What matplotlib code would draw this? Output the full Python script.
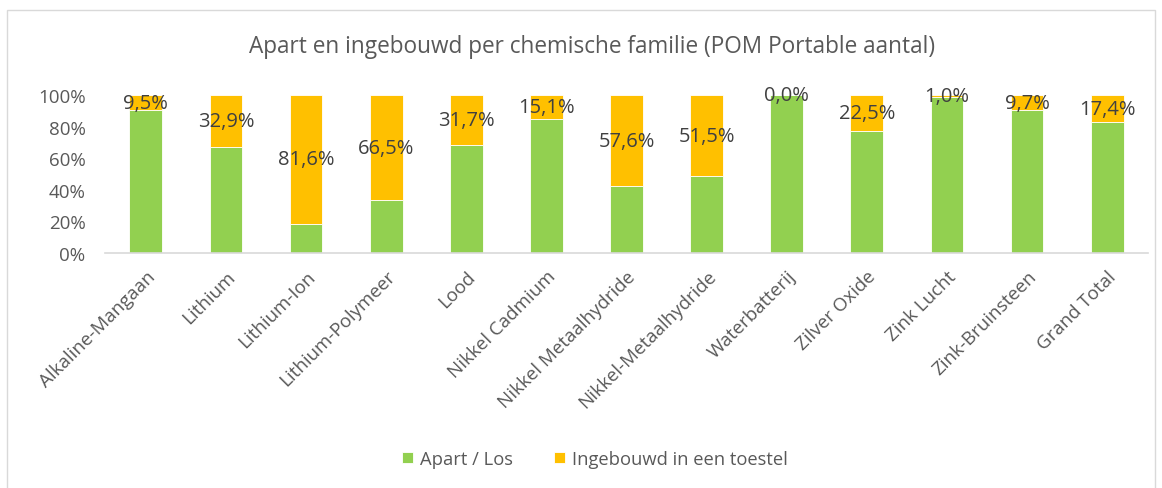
import matplotlib.pyplot as plt
from matplotlib.patches import Rectangle

plt.rcParams["font.family"] = ["Open Sans", "DejaVu Sans"]

families = ["Alkaline-Mangaan", "Lithium", "Lithium-Ion", "Lithium-Polymeer", "Lood",
            "Nikkel Cadmium", "Nikkel Metaalhydride", "Nikkel-Metaalhydride", "Waterbatterij",
            "Zilver Oxide", "Zink Lucht", "Zink-Bruinsteen", "Grand Total"]
ingebouwd = [9.5, 32.9, 81.6, 66.5, 31.7, 15.1, 57.6, 51.5, 0.0, 22.5, 1.0, 9.7, 17.4]
apart = [100 - v for v in ingebouwd]

green = "#92D050"
orange = "#FFC000"
grey = "#595959"

fig = plt.figure(figsize=(11.62, 4.89), dpi=100)
fig.patches.append(Rectangle((7 / 1162, -0.01), 1148 / 1162, 1 - 11 / 489 + 0.01,
                             transform=fig.transFigure, fill=False, edgecolor="#D9D9D9", lw=1))
ax = fig.add_axes([105 / 1162, 1 - 254 / 489, 1043 / 1162, 158 / 489])

x = range(len(families))
ax.bar(x, apart, width=0.41, color=green, edgecolor="white", lw=0.6, label="Apart / Los")
ax.bar(x, ingebouwd, width=0.41, bottom=apart, color=orange, edgecolor="white", lw=0.6,
       label="Ingebouwd in een toestel")

for i, v in enumerate(ingebouwd):
    ax.text(i, apart[i] + v / 2, f"{v:.1f}%".replace(".", ","), ha="center", va="center",
            fontsize=14.5, color="#404040")

ax.set_xlim(-0.51, 12.51)
ax.set_ylim(0, 100)
ax.set_yticks(range(0, 101, 20))
ax.set_yticklabels([f"{t}%" for t in range(0, 101, 20)], fontsize=13.5, color=grey)
ax.set_xticks(list(x))
ax.set_xticklabels(families, rotation=45, ha="right", rotation_mode="anchor",
                   fontsize=13.5, color=grey)
ax.tick_params(axis="both", length=0)
ax.tick_params(axis="y", pad=14)
ax.tick_params(axis="x", pad=10)
for s in ["top", "right", "left"]:
    ax.spines[s].set_visible(False)
ax.spines["bottom"].set_color("#D9D9D9")
ax.spines["bottom"].set_linewidth(1.2)

fig.text(592 / 1162, 1 - 47 / 489, "Apart en ingebouwd per chemische familie (POM Portable aantal)",
         ha="center", va="center", fontsize=16.3, color=grey)

fig.legend(loc="center", bbox_to_anchor=(595 / 1162, 1 - 460 / 489), ncol=2, frameon=False,
           fontsize=13.2, labelcolor=grey, handlelength=0.6, handleheight=0.6,
           handletextpad=0.4, columnspacing=2.2)

fig.savefig("out.png", dpi=100)
